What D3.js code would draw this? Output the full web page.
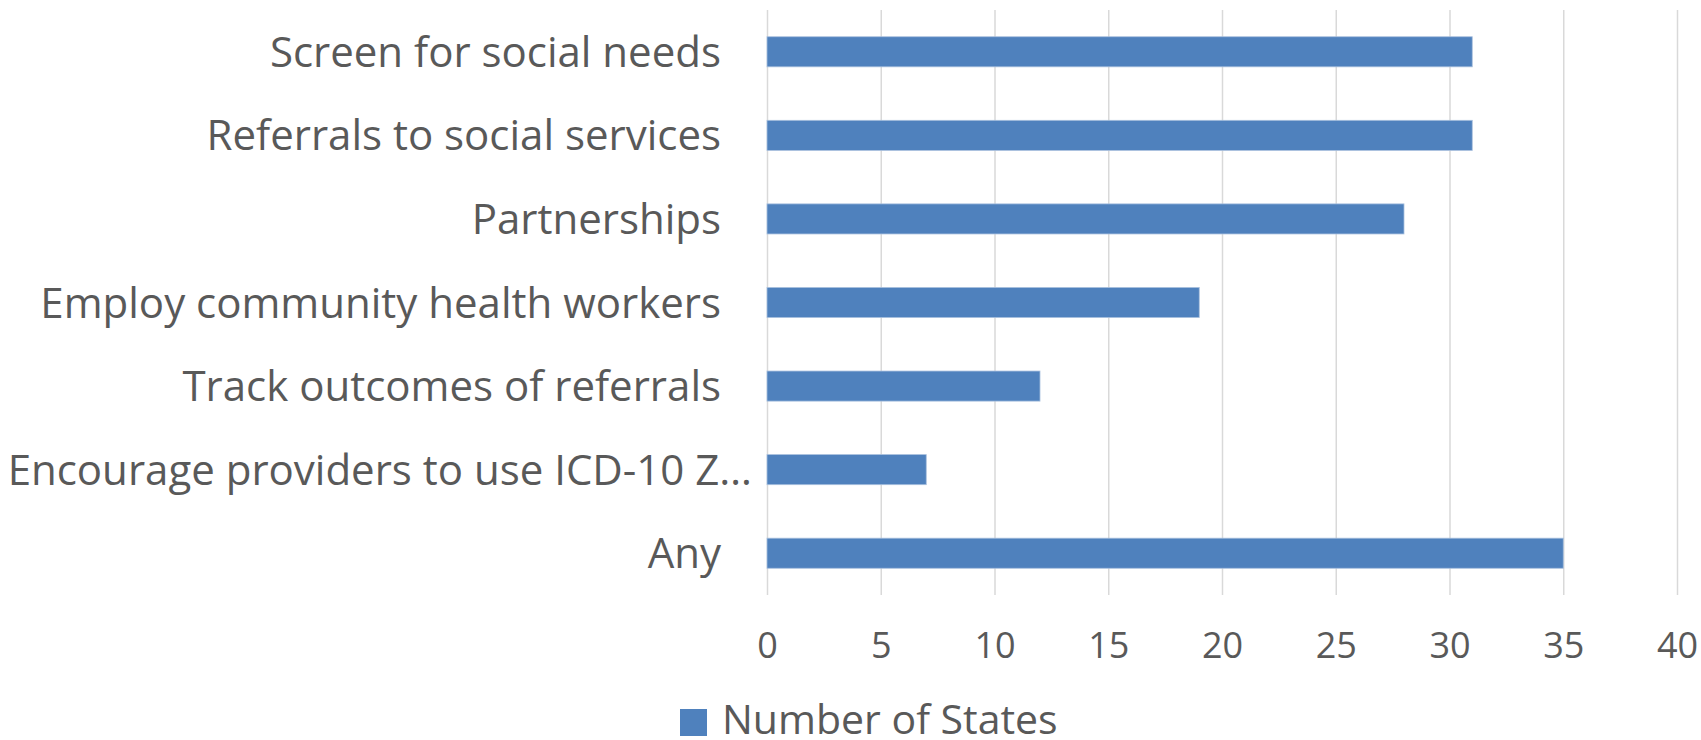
<!DOCTYPE html>
<html>
<head>
<meta charset="utf-8">
<script src="https://cdn.jsdelivr.net/npm/d3@7"></script>
<style>
  body { margin: 0; background: #fff; }
  text { font-family: "Open Sans", sans-serif; fill: #595959; }
</style>
</head>
<body>
<svg id="chart"></svg>
<script>
// chart size
var width = 1701,
    height = 740;

// data
var categories = [
    "Screen for social needs",
    "Referrals to social services",
    "Partnerships",
    "Employ community health workers",
    "Track outcomes of referrals",
    "Encourage providers to use ICD-10 Z\u2026",
    "Any"
];
var truncated = [false, false, false, false, false, true, false];
var states = [31, 31, 28, 19, 12, 7, 35];
var xTicks = [0, 5, 10, 15, 20, 25, 30, 35, 40];
var seriesName = "Number of States";

var barColor = "#4f81bd";

var svg = d3.select("#chart")
    .attr("width", width)
    .attr("height", height);

// scales
var x = d3.scaleLinear()
    .domain([0, 40])
    .range([767, 1677]);

var y = d3.scaleBand()
    .domain(categories)
    .range([10, 595])
    .paddingInner(0.64)
    .paddingOuter(0.32);

// gridlines
svg.append("g")
    .attr("class", "grid")
    .selectAll("line")
    .data(xTicks)
    .enter().append("line")
    .attr("x1", d => x(d) + 0.5)
    .attr("x2", d => x(d) + 0.5)
    .attr("y1", 10)
    .attr("y2", 595)
    .attr("stroke", "#d9d9d9")
    .attr("stroke-width", 1.5);

// bars
svg.append("g")
    .selectAll("rect")
    .data(categories)
    .enter().append("rect")
    .attr("x", x(0))
    .attr("y", d => y(d))
    .attr("width", (d, i) => x(states[i]) - x(0))
    .attr("height", y.bandwidth())
    .attr("fill", barColor)
    .attr("stroke", "#a9c0de")
    .attr("stroke-width", 0.8);

// x axis labels
var xAxis = d3.axisBottom(x)
    .tickValues(xTicks)
    .tickSize(0)
    .tickPadding(0);

var gx = svg.append("g")
    .attr("transform", "translate(0,624)")
    .call(xAxis);
gx.select(".domain").remove();
gx.selectAll("text")
    .attr("dy", "0.95em")
    .style("font-size", "36px")
    .style("font-family", "'Open Sans', sans-serif")
    .attr("fill", "#595959");

// y axis labels
var yAxis = d3.axisLeft(y)
    .tickSize(0)
    .tickPadding(46);

var gy = svg.append("g")
    .attr("transform", "translate(" + x(0) + ",0)")
    .call(yAxis);
gy.select(".domain").remove();
gy.selectAll("text")
    .style("font-size", "42px")
    .style("font-family", "'Open Sans', sans-serif")
    .attr("fill", "#595959")
    .attr("dy", "0.36em")
    .attr("x", (d, i) => truncated[i] ? -15 : -46);

// legend
var legend = svg.append("g")
    .attr("transform", "translate(680,709)");
legend.append("rect")
    .attr("width", 27)
    .attr("height", 27)
    .attr("fill", barColor);
legend.append("text")
    .attr("x", 42)
    .attr("y", 25)
    .style("font-size", "41px")
    .text(seriesName);
</script>
</body>
</html>
